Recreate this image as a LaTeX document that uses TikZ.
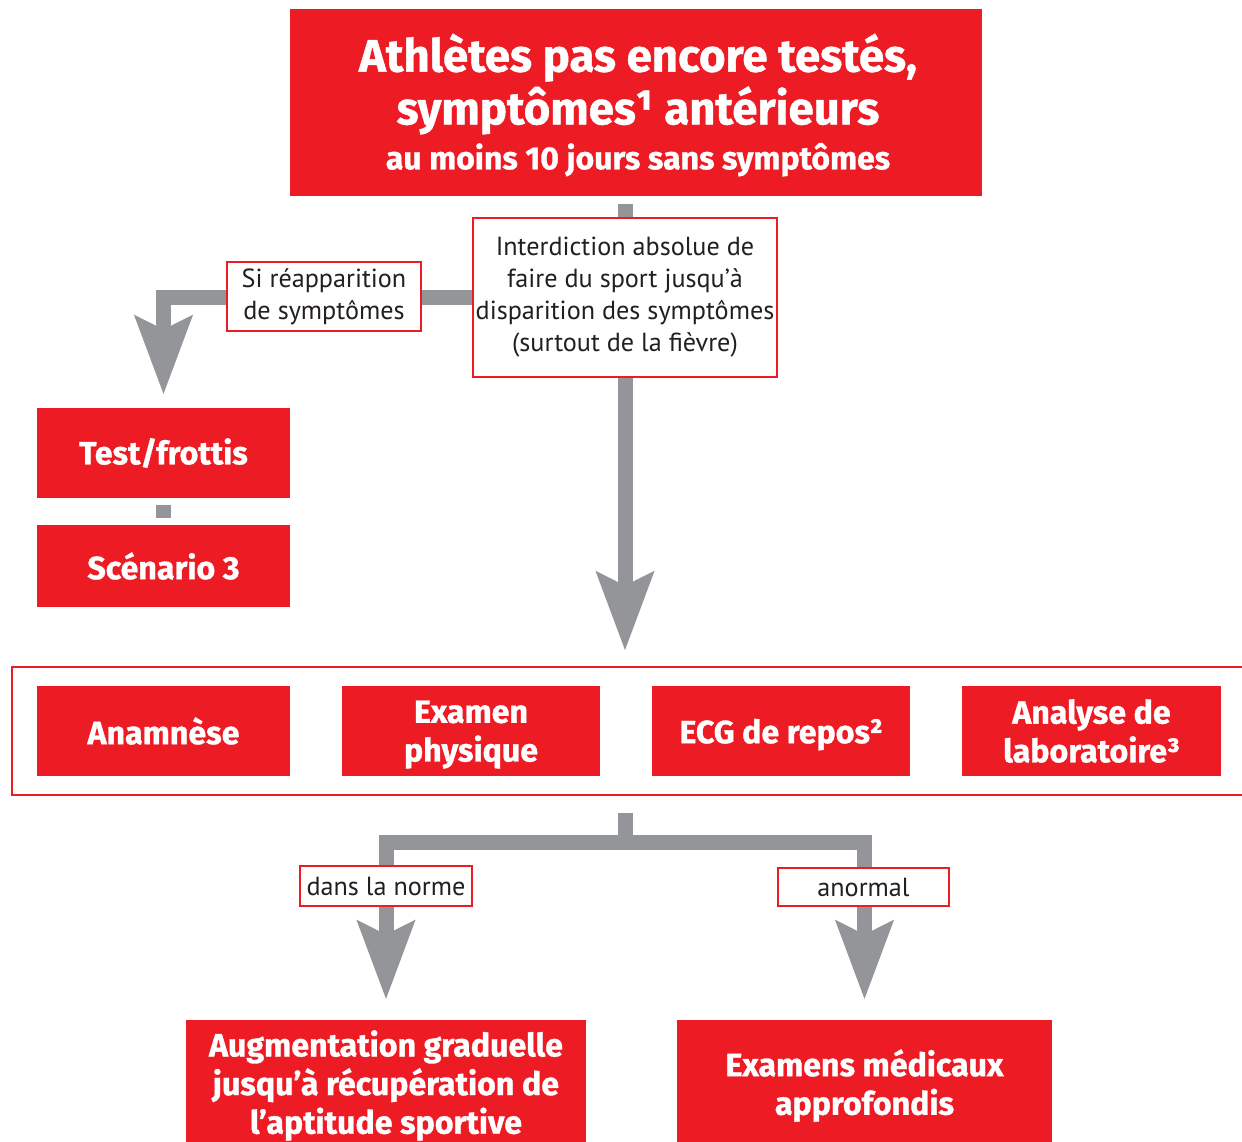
\documentclass[tikz,border=0pt]{standalone}
\usepackage{amsmath}
\usepackage{fontspec}
\setmainfont{PT Sans}
\newfontfamily\hv{Fira Sans}[FakeBold=1.0]
\usetikzlibrary{arrows.meta,calc}
\definecolor{cred}{HTML}{ED1C24}
\definecolor{cgray}{HTML}{939598}
\definecolor{ctext}{HTML}{231F20}
\begin{document}
\begin{tikzpicture}[x=0.02cm,y=-0.02cm,
 redbox/.style={fill=cred, text=white, inner sep=0pt, align=center,
   font=\hv\bfseries\fontsize{18.3}{22}\selectfont},
 lab/.style={draw=cred, line width=1.2pt, fill=white, inner sep=0pt, align=center,
   text=ctext, font=\fontsize{14.9}{18.2}\selectfont},
 conn/.style={draw=cgray, line width=0.3cm},
 tipend/.style={-{Stealth[length=1.56cm,width=1.12cm,inset=0.26cm]}},
 tipboth/.style={{Stealth[length=1.56cm,width=1.12cm,inset=0.26cm]}-{Stealth[length=1.56cm,width=1.12cm,inset=0.26cm]}},
]
\useasboundingbox (0,0) rectangle (1242,1142);
\clip (0,0) rectangle (1242,1142);
% boxes
\node[redbox, minimum width=13.84cm, minimum height=3.74cm] (top) at (636,102.5) {};
\node[text=white, align=center, inner sep=0pt, font=\hv\bfseries\fontsize{25.9}{29}\selectfont] (toptext) at (638,105)
  {Athlètes pas encore testés,\\[1pt]
   symptômes¹ antérieurs\\[-3.4pt]
   {\fontsize{18.2}{22}\selectfont au moins 10 jours sans symptômes}};
\node[lab, minimum width=6.08cm, minimum height=3.18cm] (int) at (625,297.5)
  {Interdiction absolue de\\faire du sport jusqu’à\\disparition des symptômes\\(surtout de la fièvre)};
\node[redbox, minimum width=5.06cm, minimum height=1.8cm] (test) at (163.5,453) {Test/frottis};
\node[redbox, minimum width=5.06cm, minimum height=1.64cm] (scen) at (163.5,566) {Scénario 3};
\node[draw=cred, line width=1.4pt, fill=white, minimum width=24.8cm, minimum height=2.56cm] (frame) at (632,731) {};
\node[redbox, minimum width=5.06cm, minimum height=1.8cm] (ana) at (163.5,731) {Anamnèse};
\node[redbox, minimum width=5.16cm, minimum height=1.8cm] (exa) at (471,731) {Examen\\\smash[b]{physique}};
\node[redbox, minimum width=5.16cm, minimum height=1.8cm] (ecg) at (781,731) {\smash[b]{ECG de repos²}};
\node[redbox, minimum width=5.18cm, minimum height=1.8cm] (labo) at (1091.5,731) {Analyse de\\laboratoire³};
\node[redbox, minimum width=8cm, minimum height=2.48cm] (aug) at (386,1082)
  {Augmentation graduelle\\jusqu’à récupération de\\\smash[b]{l’aptitude sportive}};
\node[redbox, minimum width=7.5cm, minimum height=2.48cm] (exm) at (864.5,1082)
  {Examens médicaux\\\smash[b]{approfondis}};
\coordinate (fork) at (625,842);
% connectors
\draw[conn, shorten <=0.16cm] (int.north |- top.south) -- (int.north);
\draw[conn, tipend, shorten >=0.26cm] (int.west) -| (test.north);
\draw[conn, shorten <=0.14cm, shorten >=0.14cm] (test.south) -- (scen.north);
\draw[conn, tipend, shorten >=0.3cm] (int.south) -- (int.south |- frame.north);
\draw[conn, shorten <=0.34cm] (int.south |- frame.south) -- (fork);
\draw[conn, tipboth, shorten <=0.4cm, shorten >=0.4cm] (aug.north) |- (fork) -| (exm.north);
% labels on connectors
\node[lab, minimum width=3.88cm, minimum height=1.38cm] (si) at (324,296.5) {Si réapparition\\de symptômes};
\node[lab, minimum width=3.44cm, minimum height=0.8cm] (norme) at (386,886) {dans la norme};
\node[lab, minimum width=3.42cm, minimum height=0.76cm] (anor) at (863.5,887) {anormal};
\end{tikzpicture}
\end{document}
